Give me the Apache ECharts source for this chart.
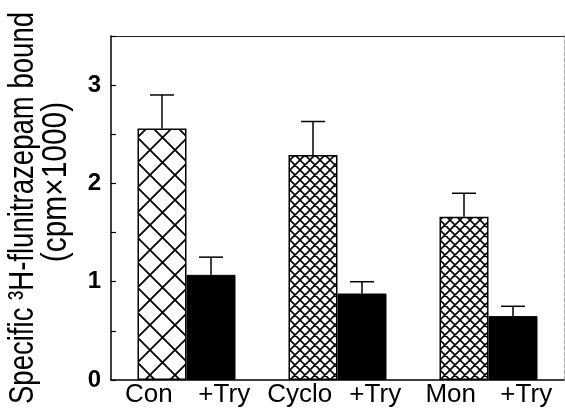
<!DOCTYPE html>
<html>
<head>
<meta charset="utf-8">
<script src="https://cdn.jsdelivr.net/npm/echarts@6/dist/echarts.min.js"></script>
<style>
html,body{margin:0;padding:0;background:#fff;}
#chart{width:565px;height:412px;}
</style>
</head>
<body>
<div id="chart"></div>
<script>
const categories = ['Con', 'Cyclo', 'Mon'];
const xTickLabels = ['Con', '+Try', 'Cyclo', '+Try', 'Mon', '+Try'];
const yTickLabels = ['0', '1', '2', '3'];
const controlValues = [2.56, 2.29, 1.66];
const controlErr = [0.34, 0.34, 0.24];
const tryValues = [1.07, 0.88, 0.65];
const tryErr = [0.18, 0.12, 0.10];
const titleLine1 = 'Specific \u00B3H-flunitrazepam bound';
const titleLine2 = '(cpm\u00D71000)';

function hatch(size, lw) {
  const c = document.createElement('canvas');
  c.width = size; c.height = size;
  const g = c.getContext('2d');
  g.fillStyle = '#fff';
  g.fillRect(0, 0, size, size);
  g.strokeStyle = '#000';
  g.lineWidth = lw;
  g.beginPath();
  for (let k = -1; k <= 1; k++) {
    g.moveTo(k * size, 0); g.lineTo(k * size + size, size);
    g.moveTo(k * size + size, 0); g.lineTo(k * size, size);
  }
  g.stroke();
  return { image: c, repeat: 'repeat' };
}
const coarse = hatch(25, 1.8);
const fine = hatch(10, 1.6);
const patterns = [coarse, fine, fine];

const barW = 49;
const chart = echarts.init(document.getElementById('chart'), null, { renderer: 'canvas' });

function errSeries(values, errs, side) {
  return {
    type: 'custom',
    xAxisIndex: 0,
    yAxisIndex: 0,
    z: 5,
    data: values.map((v, i) => [i, v + errs[i], v]),
    renderItem: function (params, api) {
      const pTop = api.coord([api.value(0), api.value(1)]);
      const pBase = api.coord([api.value(0), api.value(2)]);
      const cx = pTop[0] + side * barW / 2;
      const cap = 12;
      return {
        type: 'group',
        children: [
          { type: 'line', shape: { x1: cx, y1: pBase[1], x2: cx, y2: pTop[1] }, style: { stroke: '#000', lineWidth: 1.5 } },
          { type: 'line', shape: { x1: cx - cap, y1: pTop[1], x2: cx + cap, y2: pTop[1] }, style: { stroke: '#000', lineWidth: 1.5 } }
        ]
      };
    }
  };
}

chart.setOption({
  animation: false,
  backgroundColor: '#fff',
  grid: { left: 111, right: 1, top: 36, bottom: 32 },
  xAxis: [
    {
      type: 'category', data: categories, position: 'bottom',
      axisLine: { show: true, lineStyle: { color: '#000', width: 1.5 } },
      axisTick: { show: false }, axisLabel: { show: false }, splitLine: { show: false }
    },
    {
      type: 'category', data: xTickLabels, position: 'bottom',
      axisLine: { show: false }, axisTick: { show: false }, splitLine: { show: false },
      axisLabel: { show: true, color: '#000', fontFamily: 'Liberation Sans', fontSize: 26, margin: 2, interval: 0 }
    },
    {
      type: 'category', data: categories, position: 'top',
      axisLine: { show: true, lineStyle: { color: '#222', width: 1.2 } },
      axisTick: { show: false }, axisLabel: { show: false }
    }
  ],
  yAxis: [
    {
      type: 'value', min: 0, max: 3.5, interval: 0.5,
      axisLine: { show: true, lineStyle: { color: '#000', width: 1.5 } },
      axisTick: { show: true, inside: true, length: 5, lineStyle: { color: '#000', width: 1.2 } },
      splitLine: { show: false },
      axisLabel: {
        color: '#000', fontFamily: 'Liberation Sans', fontWeight: 'bold', fontSize: 24, margin: 10,
        formatter: function (v) { return Number.isInteger(v) ? yTickLabels[v] : ''; }
      }
    },
    {
      type: 'value', min: 0, max: 3.5, position: 'right',
      axisLine: { show: true, lineStyle: { color: '#aaa', width: 1, type: 'dashed' } },
      axisTick: { show: false }, axisLabel: { show: false }, splitLine: { show: false }
    }
  ],
  graphic: [
    {
      type: 'text', x: 23, y: 208, rotation: Math.PI / 2, scaleX: 1.06, scaleY: 1.35,
      style: { text: titleLine1, fill: '#000', font: '26px "Liberation Sans"', textAlign: 'center', textVerticalAlign: 'middle' }
    },
    {
      type: 'text', x: 56, y: 182, rotation: Math.PI / 2, scaleX: 1.15, scaleY: 1.35,
      style: { text: titleLine2, fill: '#000', font: '26px "Liberation Sans"', textAlign: 'center', textVerticalAlign: 'middle' }
    }
  ],
  series: [
    {
      type: 'bar', xAxisIndex: 0, yAxisIndex: 0, barWidth: barW, barGap: '0%',
      data: controlValues.map((v, i) => ({ value: v, itemStyle: { color: patterns[i], borderColor: '#000', borderWidth: 1.5 } }))
    },
    {
      type: 'bar', xAxisIndex: 0, yAxisIndex: 0, barWidth: barW, barGap: '0%',
      itemStyle: { color: '#000', borderColor: '#000', borderWidth: 1 },
      data: tryValues
    },
    errSeries(controlValues, controlErr, -1),
    errSeries(tryValues, tryErr, 1)
  ]
});
</script>
</body>
</html>
